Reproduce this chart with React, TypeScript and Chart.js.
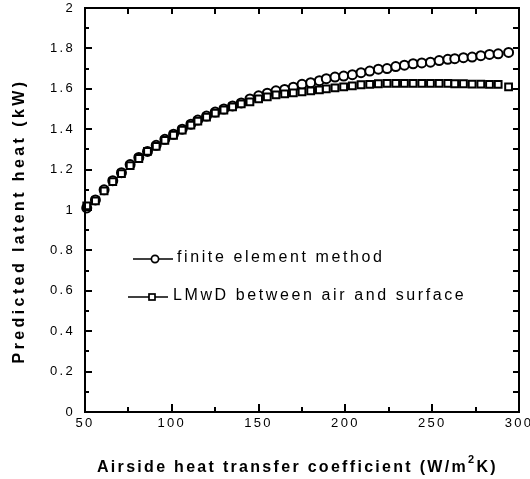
import React, { useEffect, useRef } from 'react';
import { Chart, registerables } from 'chart.js';

Chart.register(...registerables);

// Airside heat transfer coefficient (W/m2K)
const hValues = [
  51, 56, 61, 66, 71, 76, 81, 86, 91, 96,
  101, 106, 111, 115, 120, 125, 130, 135, 140, 145,
  150, 155, 160, 165, 170, 175, 180, 185, 189, 194,
  199, 204, 209, 214, 219, 224, 229, 234, 239, 244,
  249, 254, 259, 263, 268, 273, 278, 283, 288, 294,
];

// Predicted latent heat (kW) - finite element method (circles)
const femLatent = [
  1.01, 1.05, 1.10, 1.145, 1.185, 1.225, 1.26, 1.29, 1.32, 1.35,
  1.375, 1.40, 1.425, 1.445, 1.465, 1.485, 1.50, 1.515, 1.53, 1.55,
  1.565, 1.578, 1.59, 1.597, 1.608, 1.622, 1.63, 1.64, 1.65, 1.658,
  1.663, 1.67, 1.68, 1.688, 1.697, 1.70, 1.71, 1.717, 1.724, 1.728,
  1.732, 1.74, 1.746, 1.749, 1.754, 1.757, 1.764, 1.77, 1.773, 1.78,
];

// Predicted latent heat (kW) - LMwD between air and surface (squares)
const lmwdLatent = [
  1.02, 1.045, 1.095, 1.14, 1.18, 1.22, 1.255, 1.29, 1.315, 1.345,
  1.37, 1.395, 1.42, 1.44, 1.46, 1.48, 1.495, 1.51, 1.525, 1.535,
  1.55, 1.56, 1.57, 1.575, 1.58, 1.585, 1.59, 1.595, 1.60, 1.605,
  1.61, 1.615, 1.62, 1.622, 1.625, 1.627, 1.627, 1.627, 1.627, 1.627,
  1.627, 1.627, 1.627, 1.625, 1.625, 1.623, 1.623, 1.622, 1.622, 1.61,
];

const seriesLabels = ['finite element method', 'LMwD between air and surface'];
const xTitleMain = 'Airside heat transfer coefficient (W/m';
const xTitleSup = '2';
const xTitleEnd = 'K)';
const yTitle = 'Predicted latent heat (kW)';

const X_MIN = 50;
const X_MAX = 300;
const X_MAJOR = 50;
const X_MINOR = 25;
const Y_MIN = 0;
const Y_MAX = 2;
const Y_MAJOR = 0.2;
const Y_MINOR = 0.1;

const FONT = '"Liberation Sans", Arial, sans-serif';

const decorPlugin = {
  id: 'decor',
  beforeDraw(chart: any) {
    chart.ctx.letterSpacing = '2.3px';
  },
  afterDraw(chart: any) {
    const { ctx, chartArea } = chart;
    const { left, right, top, bottom } = chartArea;
    const xs = chart.scales.x;
    const ys = chart.scales.y;
    ctx.save();
    ctx.letterSpacing = '0px';
    ctx.strokeStyle = '#000';
    ctx.lineWidth = 2;
    ctx.lineCap = 'butt';
    ctx.strokeRect(left, top, right - left, bottom - top);

    ctx.beginPath();
    for (let i = 0; X_MIN + i * X_MINOR <= X_MAX + 1e-9; i++) {
      const v = X_MIN + i * X_MINOR;
      const px = Math.round(xs.getPixelForValue(v));
      const isMajor = i % 2 === 0;
      if (v > X_MIN && v < X_MAX) {
        const lb = isMajor ? 8 : 5;
        ctx.moveTo(px, bottom);
        ctx.lineTo(px, bottom - lb);
        ctx.moveTo(px, top);
        ctx.lineTo(px, top + 6);
      }
    }
    for (let i = 0; Y_MIN + i * Y_MINOR <= Y_MAX + 1e-9; i++) {
      const v = Y_MIN + i * Y_MINOR;
      const py = Math.round(ys.getPixelForValue(v));
      const isMajor = i % 2 === 0;
      if (i > 0 && v < Y_MAX - 1e-9) {
        const ll = isMajor ? 7 : 4;
        ctx.moveTo(left, py);
        ctx.lineTo(left + ll, py);
        ctx.moveTo(right, py);
        ctx.lineTo(right - 6, py);
      }
    }
    ctx.stroke();

    // legend
    ctx.lineWidth = 1.7;
    ctx.beginPath();
    ctx.moveTo(133, 259);
    ctx.lineTo(173, 259);
    ctx.stroke();
    ctx.beginPath();
    ctx.arc(155, 259, 3.6, 0, Math.PI * 2);
    ctx.fillStyle = '#fff';
    ctx.fill();
    ctx.stroke();
    ctx.beginPath();
    ctx.moveTo(128, 297);
    ctx.lineTo(168, 297);
    ctx.stroke();
    ctx.fillStyle = '#fff';
    ctx.fillRect(149, 294, 6, 6);
    ctx.strokeRect(149, 294, 6, 6);

    ctx.fillStyle = '#000';
    ctx.font = `16px ${FONT}`;
    ctx.letterSpacing = '2.6px';
    ctx.textAlign = 'left';
    ctx.textBaseline = 'middle';
    ctx.fillText(seriesLabels[0], 177, 258);
    ctx.fillText(seriesLabels[1], 173, 296);

    // x title
    ctx.font = `bold 16px ${FONT}`;
    ctx.letterSpacing = '2.3px';
    ctx.textBaseline = 'alphabetic';
    const baseY = 472;
    let tx = 97;
    ctx.fillText(xTitleMain, tx, baseY);
    tx += ctx.measureText(xTitleMain).width;
    ctx.font = `bold 11px ${FONT}`;
    ctx.fillText(xTitleSup, tx, baseY - 9);
    tx += ctx.measureText(xTitleSup).width;
    ctx.font = `bold 16px ${FONT}`;
    ctx.fillText(xTitleEnd, tx, baseY);

    // y title
    ctx.translate(20, 221);
    ctx.rotate(-Math.PI / 2);
    ctx.font = `bold 16px ${FONT}`;
    ctx.letterSpacing = '3.4px';
    ctx.textAlign = 'center';
    ctx.textBaseline = 'middle';
    ctx.fillText(yTitle, 0, 0);
    ctx.restore();
  },
};

export default function App() {
  const canvasRef = useRef<HTMLCanvasElement | null>(null);

  useEffect(() => {
    const canvas = canvasRef.current;
    if (!canvas) return;
    const chart = new Chart(canvas, {
      type: 'scatter',
      data: {
        datasets: [
          {
            label: seriesLabels[1],
            data: hValues.map((h, i) => ({ x: h, y: lmwdLatent[i] })),
            pointStyle: 'rect',
            pointRadius: 4.8,
            pointBorderWidth: 2,
            pointBackgroundColor: '#fff',
            pointBorderColor: '#000',
            showLine: false,
            clip: false,
          },
          {
            label: seriesLabels[0],
            data: hValues.map((h, i) => ({ x: h, y: femLatent[i] })),
            pointStyle: 'circle',
            pointRadius: 4.5,
            pointBorderWidth: 2,
            pointBackgroundColor: '#fff',
            pointBorderColor: '#000',
            showLine: false,
            clip: false,
          },
        ],
      },
      plugins: [decorPlugin],
      options: {
        animation: false,
        responsive: false,
        maintainAspectRatio: false,
        layout: { padding: { left: 0, right: 11, top: 8, bottom: 0 } },
        plugins: {
          legend: { display: false },
          tooltip: { enabled: false },
        },
        events: [],
        scales: {
          x: {
            type: 'linear',
            min: X_MIN,
            max: X_MAX,
            grid: { display: false, drawTicks: false },
            border: { display: false },
            ticks: {
              stepSize: X_MAJOR,
              color: '#000',
              padding: 4,
              maxRotation: 0,
              font: { family: FONT, size: 13 },
            },
            afterFit(scale: any) {
              scale.height = 67;
              scale.paddingLeft = 0;
              scale.paddingRight = 0;
            },
          },
          y: {
            type: 'linear',
            min: Y_MIN,
            max: Y_MAX,
            grid: { display: false, drawTicks: false },
            border: { display: false },
            ticks: {
              stepSize: Y_MAJOR,
              color: '#000',
              padding: 10,
              font: { family: FONT, size: 13 },
              callback: (value: any) => String(Number(Number(value).toFixed(1))),
            },
            afterFit(scale: any) {
              scale.width = 85;
              scale.paddingTop = 0;
              scale.paddingBottom = 0;
            },
          },
        },
      },
    });
    return () => chart.destroy();
  }, []);

  return (
    <div style={{ position: 'fixed', left: 0, top: 0, width: 530, height: 479, background: '#fff' }}>
      <canvas ref={canvasRef} width={530} height={479} style={{ display: 'block' }} />
    </div>
  );
}
